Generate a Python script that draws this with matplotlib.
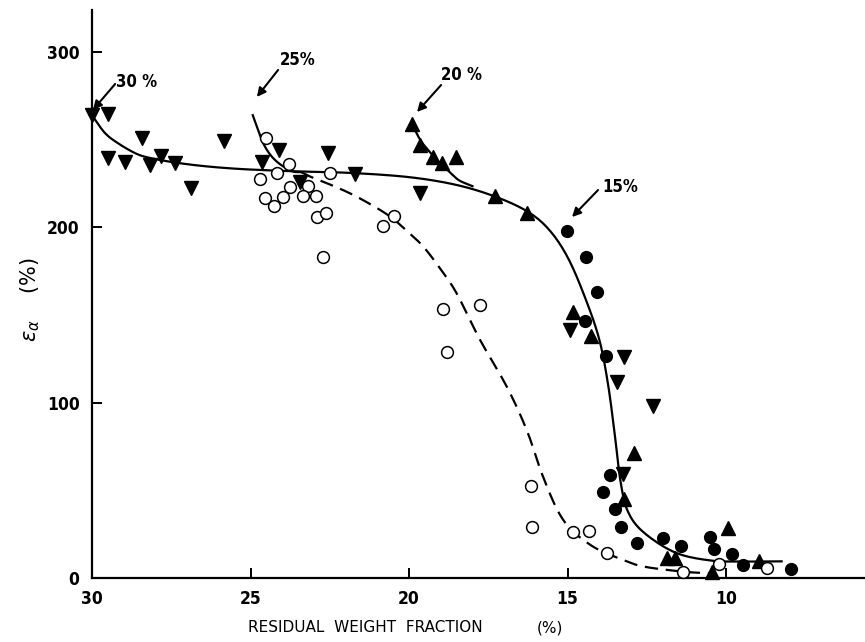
import numpy as np
import matplotlib
matplotlib.use("Agg")
import matplotlib.pyplot as plt

# residual weight fraction (%) vs elongation, one series per starting fraction
down_x = [30.0, 29.49, 28.43, 29.49, 28.96, 28.17, 27.82, 27.38, 26.88, 25.83, 24.64,
          24.09, 23.44, 22.55, 21.70, 19.65, 14.92, 13.21, 13.43, 12.31, 13.24]
down_y = [264, 264.7, 251, 239.4, 237.5, 235.6, 240.7, 237, 222.6, 249.3, 237.5,
          244.2, 226, 242.2, 230.5, 219.4, 141.5, 126, 112, 98.1, 59.3]

open_x = [24.51, 23.78, 24.16, 24.70, 22.49, 23.75, 23.18, 24.54, 24.26, 23.98, 23.33,
          22.93, 22.89, 22.63, 22.70, 20.83, 20.47, 18.94, 17.76, 18.79, 16.15, 16.11,
          14.82, 14.34, 13.77, 11.35, 10.21, 8.70]
open_y = [251, 236.2, 230.8, 227.4, 231.2, 222.9, 223.6, 216.6, 212.2, 217.2, 217.9,
          217.9, 205.7, 208, 182.9, 201, 206.7, 153.4, 155.7, 128.7, 52.7, 29.3,
          26.4, 27, 14.1, 3.6, 7.8, 5.9]

up_x = [19.91, 19.65, 19.23, 18.97, 18.52, 17.29, 16.29, 14.82, 14.26, 12.89, 13.22,
        11.87, 11.61, 9.93, 8.95, 10.45]
up_y = [259, 247, 240.3, 236.6, 240, 217.9, 208.4, 152, 138, 71.5, 44.9,
        11.2, 11.2, 28.4, 9.7, 3.6]

dot_x = [15.03, 14.43, 14.08, 14.45, 13.79, 13.66, 13.87, 13.50, 13.32, 12.82, 11.98,
         11.43, 10.50, 10.38, 9.80, 9.47, 7.95]
dot_y = [198, 182.9, 163, 146.8, 126.6, 58.8, 49.2, 39.2, 29.3, 19.8, 22.6,
         18.3, 23.6, 16.4, 13.7, 7.4, 5]

# hand drawn trend lines (control points)
main_x = [30.0, 29.6, 29.18, 28.6, 28.12, 27.38, 26.5, 25.5, 24.5, 23.44, 21.76, 19.97,
          18.5, 17.29, 16.29, 15.6, 15.0, 14.45, 14.0, 13.72, 13.5, 13.33, 13.1,
          12.6, 11.6, 10.5, 9.5, 8.25]
main_y = [264, 254, 248, 242, 239.4, 237, 235, 233.5, 232.6, 231.9, 231, 228.6,
          224.2, 217.6, 209.3, 199, 183, 160, 136, 110, 80, 55, 38,
          26, 14.5, 10, 9.4, 9.5]

c20_x = [19.91, 19.65, 19.44, 19.1, 18.91, 18.6, 18.39, 18.0]
c20_y = [259, 250, 245, 238, 234.9, 229.5, 226.5, 223.5]

c25_x = [24.93, 24.75, 24.6, 24.4, 24.17, 23.9, 23.65, 23.4]
c25_y = [264, 255, 248, 242, 237.5, 234, 231.8, 231.5]

dash_x = [23.4, 23.12, 22.5, 21.86, 21.2, 20.6, 20.1, 19.55, 19.0, 18.5, 17.76, 16.92,
          16.29, 15.8, 15.3, 14.85, 14.25, 13.77, 13.2, 12.6, 11.35, 10.5]
dash_y = [231.5, 229, 224.5, 219.4, 213, 206.2, 198.5, 189, 176, 162.4, 135.8, 109.2,
          84.4, 59, 38, 27, 18.5, 14.1, 10, 6.5, 3.6, 2.7]

# label, text position, arrow start, arrow tip
notes = [("30 %", (28.58, 283), (29.27, 281.8), (29.97, 267)),
         ("25%", (23.5, 295.5), (24.13, 289.8), (24.8, 274.4)),
         ("20 %", (18.36, 286.9), (18.99, 281.2), (19.75, 265.8)),
         ("15%", (13.34, 223), (14.04, 221.3), (14.86, 205.9))]


def smooth(xs, ys, n=10):
    # Catmull-Rom pass through the control points
    p = np.column_stack([xs, ys]).astype(float)
    p = np.vstack([2 * p[0] - p[1], p, 2 * p[-1] - p[-2]])
    t = np.linspace(0, 1, n, endpoint=False)[:, None]
    out = []
    for i in range(1, len(p) - 2):
        p0, p1, p2, p3 = p[i - 1], p[i], p[i + 1], p[i + 2]
        out.append(0.5 * (2 * p1 + (p2 - p0) * t + (2 * p0 - 5 * p1 + 4 * p2 - p3) * t ** 2
                          + (3 * p1 - p0 - 3 * p2 + p3) * t ** 3))
    out.append(p[-2][None, :])
    out = np.vstack(out)
    return out[:, 0], out[:, 1]


narrow = dict(family='DejaVu Sans', stretch='condensed', weight='bold')

fig = plt.figure(figsize=(8.65, 6.42), dpi=100)
ax = fig.add_axes([92 / 865, 1 - 578 / 642, 1 - 92 / 865, 568 / 642])

ax.plot(*smooth(main_x, main_y), color='black', lw=1.6, zorder=2)
ax.plot(*smooth(c20_x, c20_y), color='black', lw=1.6, zorder=2)
ax.plot(*smooth(c25_x, c25_y), color='black', lw=1.6, zorder=2)
ax.plot(*smooth(dash_x, dash_y), color='black', lw=1.6, dashes=(6, 3.5), zorder=2)

ax.plot(down_x, down_y, 'v', color='black', ms=9.5, zorder=3, clip_on=False)
ax.plot(up_x, up_y, '^', color='black', ms=9.5, zorder=3, clip_on=False)
ax.plot(dot_x, dot_y, 'o', color='black', ms=8.5, zorder=3, clip_on=False)
ax.plot(open_x, open_y, 'o', mfc='white', mec='black', mew=1.1, ms=8.5, zorder=4,
        clip_on=False)

for label, txt, start, tip in notes:
    ax.annotate('', xy=tip, xytext=start,
                arrowprops=dict(arrowstyle='-|>', color='black', lw=1.5,
                                mutation_scale=13, shrinkA=0, shrinkB=0))
    ax.text(txt[0], txt[1], label, ha='center', va='center', fontsize=12, **narrow)

ax.set_xlim(30, 5.62)
ax.set_ylim(0, 324)
ax.spines['top'].set_visible(False)
ax.spines['right'].set_visible(False)
ax.spines['left'].set_linewidth(1.6)
ax.spines['bottom'].set_linewidth(1.6)

ax.set_xticks([30, 25, 20, 15, 10])
ax.set_yticks([0, 100, 200, 300])
ax.tick_params(direction='in', length=7, width=1.4, pad=9, labelsize=12.5)
for lab in ax.get_xticklabels() + ax.get_yticklabels():
    lab.set_family('DejaVu Sans')
    lab.set_stretch('condensed')
    lab.set_fontweight('bold')

fig.text(248 / 865, 1 - 628 / 642, 'RESIDUAL  WEIGHT  FRACTION', fontsize=11,
         va='center', ha='left', family='DejaVu Sans')
fig.text(550 / 865, 1 - 628 / 642, '(%)', fontsize=11, va='center', ha='center',
         family='DejaVu Sans')
fig.text(30 / 865, 1 - 300 / 642, r'$\varepsilon_{\alpha}$    (%)', fontsize=15,
         rotation=90, va='center', ha='center')

fig.savefig('out.png', dpi=100)
